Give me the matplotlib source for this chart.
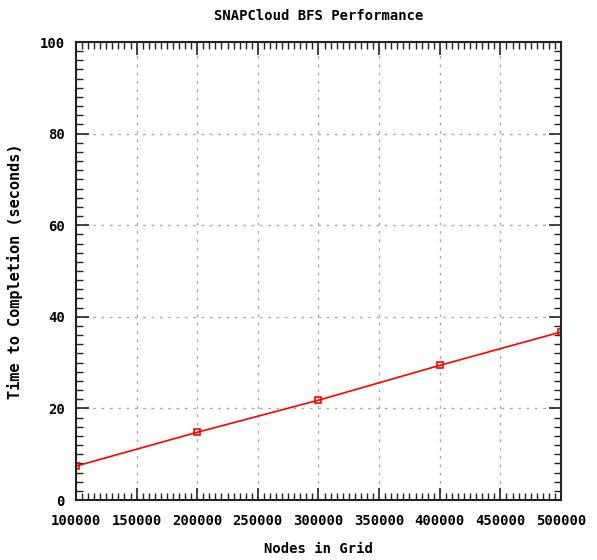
import matplotlib.pyplot as plt
from matplotlib.ticker import MultipleLocator

nodes = [100000, 200000, 300000, 400000, 500000]
seconds = [7.4, 14.8, 21.8, 29.4, 36.7]

plt.rcParams['font.family'] = 'DejaVu Sans Mono'
plt.rcParams['font.weight'] = 'bold'
plt.rcParams['font.size'] = 10

fig = plt.figure(figsize=(5.97, 5.6), dpi=100)
ax = fig.add_axes([0.1273, 0.1071, 0.8124, 0.8179])

ax.plot(nodes, seconds, c='red', lw=1.2, marker='s', markersize=5,
        markerfacecolor='none', markeredgecolor='red', markeredgewidth=1.2)

ax.set_xlim(100000, 500000)
ax.set_ylim(0, 100)
ax.xaxis.set_major_locator(MultipleLocator(50000))
ax.xaxis.set_minor_locator(MultipleLocator(5000))
ax.yaxis.set_major_locator(MultipleLocator(20))
ax.yaxis.set_minor_locator(MultipleLocator(2))
ax.tick_params(which='both', direction='in', top=True, right=True, color='#222222')
ax.tick_params(which='major', length=9, width=1.2)
ax.tick_params(axis='x', which='major', pad=10)
ax.tick_params(axis='y', which='major', pad=8)
ax.tick_params(which='minor', length=5, width=1)
for s in ax.spines.values():
    s.set_linewidth(1.5)
    s.set_color('#222222')

ax.grid(True, which='major', linestyle=(0, (2, 4)), color='#aaaaaa', lw=1)

ax.set_title("SNAPCloud BFS Performance", fontsize=10, fontweight='bold', pad=16)
ax.set_xlabel("Nodes in Grid", fontsize=10, fontweight='bold', labelpad=10)
ax.set_ylabel("Time to Completion (seconds)", fontsize=11, fontweight='bold', labelpad=12)

plt.savefig("out.png")
